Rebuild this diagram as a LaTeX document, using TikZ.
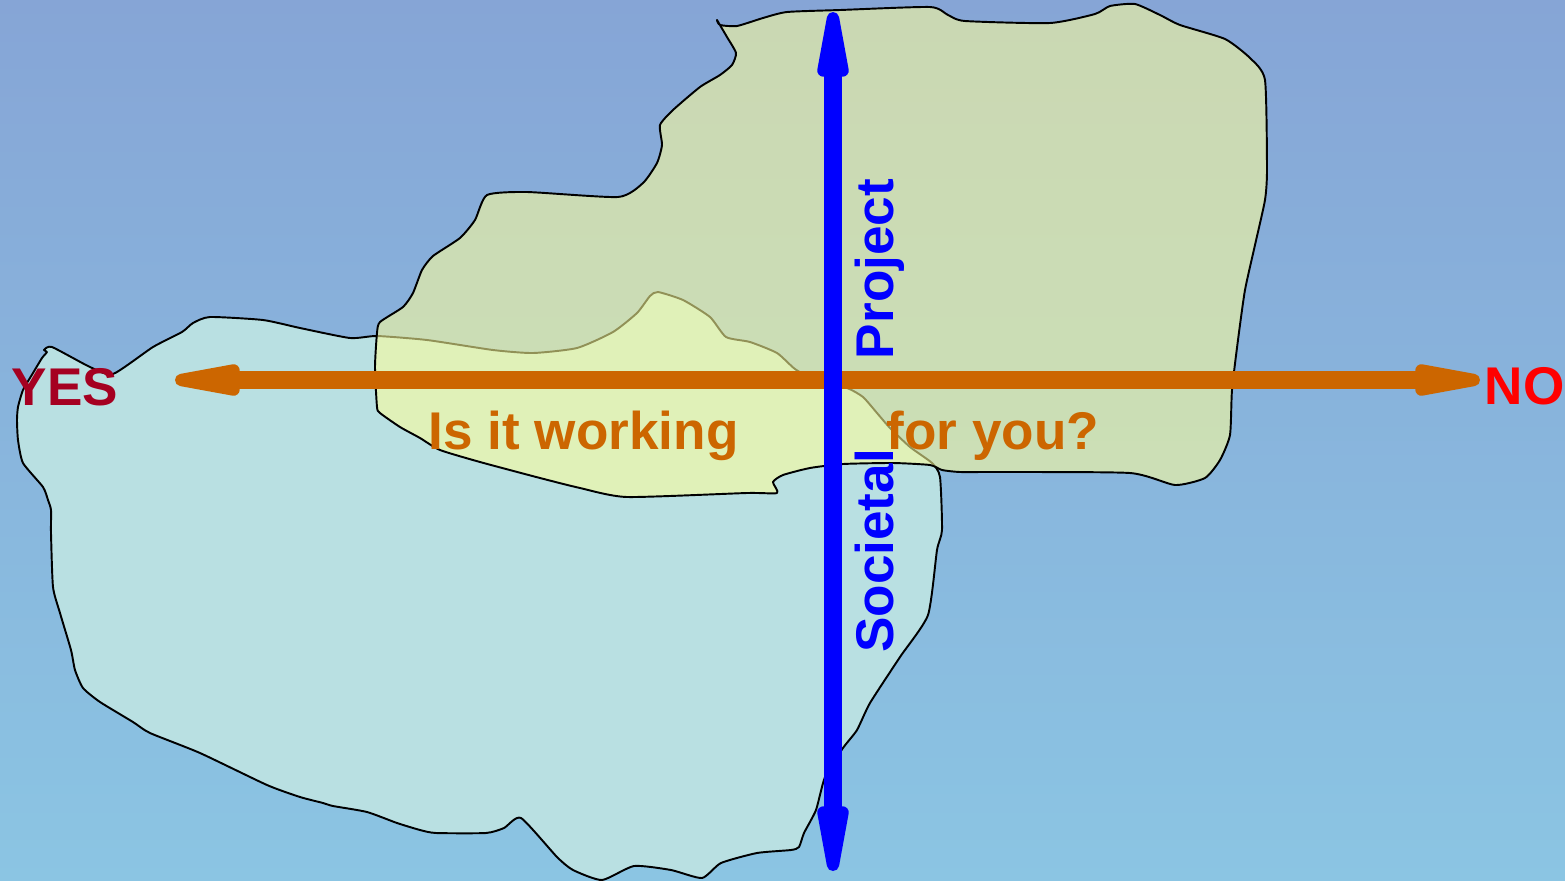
\documentclass[tikz,border=0pt]{standalone}
\usepackage{fontspec}
\setmainfont{Liberation Sans}
\usetikzlibrary{arrows.meta}

\definecolor{bgtop}{RGB}{134,165,214}
\definecolor{bgbot}{RGB}{139,197,227}
\definecolor{socfill}{RGB}{185,224,226}
\definecolor{projfill}{RGB}{255,255,153}
\definecolor{axisorange}{RGB}{204,102,0}
\definecolor{axisblue}{RGB}{0,0,255}
\definecolor{yescol}{RGB}{165,0,33}

\begin{document}
\begin{tikzpicture}[
  x=0.01cm, y=-0.01cm,
  font=\fontsize{15.1pt}{18pt}\selectfont\bfseries,
  region/.style={draw=black,line width=0.55pt,line join=round},
  soc/.style={region,fill=socfill},
  proj/.style={region,fill=projfill,fill opacity=0.57},
  arr/.style={line width=5.1pt,
    {Triangle[length=10mm,width=3mm,round,line width=3.5pt]}-{Triangle[length=10mm,width=3mm,round,line width=3.5pt]}},
  lab/.style={inner sep=0pt,anchor=base west},
  axis/.style={inner sep=0pt,anchor=base,rotate=90,text=axisblue}
]

% ---------- background ----------
\useasboundingbox (0,0) rectangle (1565,881);
\shade[top color=bgtop,bottom color=bgbot] (0,0) rectangle (1565,881);

% ---------- regions ----------
\draw[soc] plot[smooth cycle,tension=0.35] coordinates {
  (44,350) (52,347) (90,367) (113,374) (153,347) (182,332) (193,323) (210,317)
  (263,320) (300,328) (350,338) (377,336) (427,340) (493,350) (533,353) (577,348)
  (613,332) (637,313) (650,296) (658,292) (683,300) (710,317) (726,337) (750,342)
  (777,353) (795,369) (818,382) (847,388) (863,397) (877,413) (890,428) (910,447)
  (932,463) (940,477) (942,530) (937,550) (928,615) (900,657) (870,703) (857,730)
  (843,748) (825,777) (816,810) (804,833) (799,847) (791,850) (757,853) (721,863)
  (702,878) (671,870) (634,866) (602,880) (573,870) (557,857) (521,818) (504,828)
  (486,833) (436,833) (420,830) (397,823) (367,812) (333,806) (323,803) (300,797)
  (267,785) (200,753) (150,733) (133,722) (100,702) (83,688) (75,670) (71,650)
  (60,613) (53,587) (51,533) (51,510) (48,500) (43,487) (23,463) (18,440)
  (17,420) (18,407) (23,390) (33,373) (42,358) (47,352)};

\draw[proj] plot[smooth cycle,tension=0.35] coordinates {
  (720,25) (737,26) (763,18) (787,12) (840,10) (930,7) (948,15) (965,21)
  (1050,23) (1095,14) (1110,6) (1135,4) (1160,15) (1180,25) (1225,39) (1250,58)
  (1265,80) (1267,170) (1265,200) (1255,245) (1245,290) (1238,340) (1232,390) (1230,435)
  (1220,460) (1205,478) (1175,485) (1130,473) (1000,472) (960,472) (942,470) (930,465)
  (893,463) (843,464) (810,468) (783,475) (773,482) (777,493) (747,493) (627,497)
  (580,488) (540,478) (480,462) (440,450) (420,438) (400,427) (380,413) (377,407)
  (375,367) (377,333) (380,322) (403,307) (413,293) (422,270) (433,256) (460,238)
  (475,220) (487,195) (527,192) (618,197) (643,183) (657,163) (662,145) (660,125)
  (673,110) (700,87) (720,75) (732,65) (736,53) (727,37) (717,20)};

% ---------- axes ----------
\coordinate (yesend) at (175,380);
\coordinate (noend) at (1480,380);
\coordinate (projend) at (833,12);
\coordinate (socend) at (833,871);

\draw[arr,axisorange] (yesend) -- (noend);
\draw[arr,axisblue] (socend) -- (projend);

% ---------- labels ----------
\node[lab,text=yescol] (yes) at (11,405) {YES};
\node[lab,text=red] (no) at (1484,404) {NO};
\node[lab,text=axisorange] (q1) at (428,449) {Is it working};
\node[lab,text=axisorange] (q2) at (886,449) {for you?};
\node[axis] (proj) at (893,269) {Project};
\node[axis] (soc) at (893,551) {Societal};

\end{tikzpicture}
\end{document}
